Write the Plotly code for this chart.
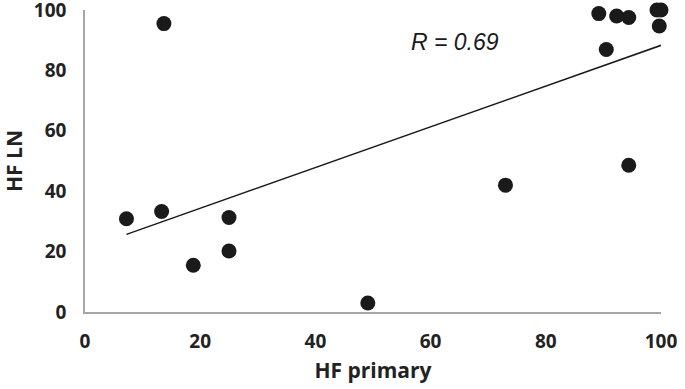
import plotly.graph_objects as go

hf_primary = [7.2, 13.3, 13.7, 18.8, 25.0, 25.0, 49.1, 73.0, 94.4, 89.2, 92.3, 94.4, 99.3, 100.0, 99.7, 90.5]
hf_ln = [30.9, 33.3, 95.5, 15.5, 31.3, 20.2, 3.0, 42.0, 48.6, 98.8, 98.0, 97.5, 100.0, 100.0, 94.7, 86.9]

trend_x = [7.2, 100.0]
trend_y = [25.7, 88.3]

x_ticks = [0, 20, 40, 60, 80, 100]
y_ticks = [0, 20, 40, 60, 80, 100]

FONT = "Open Sans, Lato, sans-serif"

fig = go.Figure()
fig.add_trace(go.Scatter(x=trend_x, y=trend_y, mode="lines",
                         line=dict(color="#1a1a1a", width=1.5), showlegend=False))
fig.add_trace(go.Scatter(x=hf_primary, y=hf_ln, mode="markers", cliponaxis=False,
                         marker=dict(color="#1a1a1a", size=15), showlegend=False))

fig.add_annotation(x=64.2, y=89.3, text="<i>R = 0.69</i>", showarrow=False,
                   font=dict(family="Liberation Sans, Arial", size=23, color="#1a1a1a"))

tick_font = dict(family=FONT, size=19, color="#222222", weight=700)
title_font = dict(family=FONT, size=21, color="#222222", weight=700)

fig.update_xaxes(range=[0, 100], tickvals=x_ticks, showgrid=False, zeroline=False,
                 showline=True, linecolor="#a6a6a6", linewidth=1.5,
                 ticks="", ticklabelstandoff=11, automargin=False,
                 ticklabeloverflow="allow",
                 tickfont=tick_font,
                 title=dict(text="HF primary", font=title_font, standoff=11))
fig.update_yaxes(range=[0, 100], tickvals=y_ticks, showgrid=False, zeroline=False,
                 showline=True, linecolor="#a6a6a6", linewidth=1.5,
                 ticks="", ticklabelstandoff=13, automargin=False,
                 ticklabeloverflow="allow",
                 tickfont=tick_font,
                 title=dict(text="HF LN", font=title_font, standoff=20))

fig.update_layout(width=685, height=389, margin=dict(l=85, r=24, t=10, b=77),
                  plot_bgcolor="white", paper_bgcolor="white", hovermode=False)

fig.write_html("out.html", config={"displayModeBar": False},
               post_script="document.body.style.margin='0';")
